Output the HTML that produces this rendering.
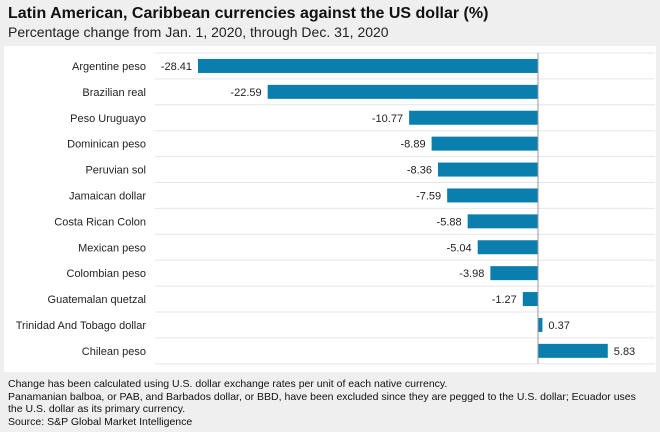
<!DOCTYPE html>
<html><head><meta charset="utf-8"><style>
body{margin:0;width:660px;height:432px;background:#efefef;font-family:"Liberation Sans",sans-serif;overflow:hidden;position:relative}
.t{position:absolute;left:8px;top:5px;font-size:16px;font-weight:bold;color:#111}
.s{position:absolute;left:8px;top:24px;font-size:14px;color:#222}
.f{position:absolute;left:8px;top:378px;font-size:10.5px;color:#111;line-height:12.5px;width:645px}
</style></head><body>
<div class="t">Latin American, Caribbean currencies against the US dollar (%)</div>
<div class="s">Percentage change from Jan. 1, 2020, through Dec. 31, 2020</div>
<svg id="c" width="660" height="432" style="position:absolute;left:0;top:0">
<rect x="4" y="46" width="652" height="326" fill="#fff"/>
</svg>
<div class="f">Change has been calculated using U.S. dollar exchange rates per unit of each native currency.<br>Panamanian balboa, or PAB, and Barbados dollar, or BBD, have been excluded since they are pegged to the U.S. dollar; Ecuador uses the U.S. dollar as its primary currency.<br>Source: S&amp;P Global Market Intelligence</div>
<script>
const categories=["Argentine peso","Brazilian real","Peso Uruguayo","Dominican peso","Peruvian sol","Jamaican dollar","Costa Rican Colon","Mexican peso","Colombian peso","Guatemalan quetzal","Trinidad And Tobago dollar","Chilean peso"];
const values=[-28.41,-22.59,-10.77,-8.89,-8.36,-7.59,-5.88,-5.04,-3.98,-1.27,0.37,5.83];
const labels=["-28.41","-22.59","-10.77","-8.89","-8.36","-7.59","-5.88","-5.04","-3.98","-1.27","0.37","5.83"];
const svg=document.getElementById('c');const NS='http://www.w3.org/2000/svg';
const zeroX=538,scale=340/28.41,top0=53,step=25.9;
const x=v=>zeroX+v*scale;const yc=i=>top0+step*i+step/2;
function mk(t,a){const e=document.createElementNS(NS,t);for(const k in a)e.setAttribute(k,a[k]);svg.appendChild(e);return e;}
for(let i=0;i<=categories.length;i++){const g=mk('line',{x1:155,x2:655,y1:top0+step*i,y2:top0+step*i,stroke:'#e6e6e6','stroke-width':1});

}
categories.forEach((c,i)=>{
const v=values[i],y=yc(i);
const b=mk('rect',{x:Math.min(x(v),zeroX),y:y-7,width:Math.abs(x(v)-zeroX),height:14,fill:'#0a7fae'});


const l=mk('text',{x:146,y:y+4,'text-anchor':'end','font-size':11,fill:'#222'});l.textContent=c;


const vt=mk('text',{x:v<0?x(v)-6:x(v)+6,y:y+4,'text-anchor':v<0?'end':'start','font-size':11,fill:'#222'});vt.textContent=labels[i];


});
const z=mk('line',{x1:zeroX,x2:zeroX,y1:top0,y2:top0+step*categories.length,stroke:'#999','stroke-width':1});


</script>
</body></html>
